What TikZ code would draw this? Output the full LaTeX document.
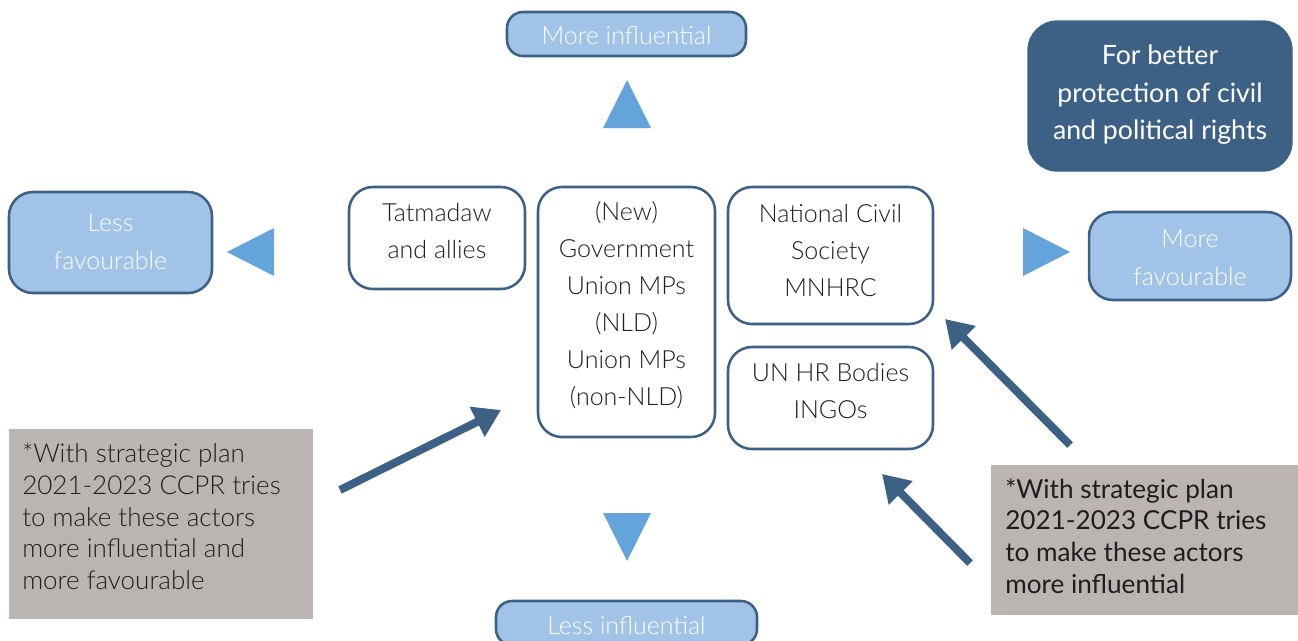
\documentclass[tikz,border=0pt]{standalone}
\usepackage{fontspec}
\setmainfont{Lato}
\newfontfamily\lightf{Lato Light}
\usetikzlibrary{arrows.meta}
\definecolor{dblue}{RGB}{61,97,133}
\definecolor{lblue}{RGB}{161,195,231}
\definecolor{tblue}{RGB}{101,164,218}
\definecolor{gbox}{RGB}{186,181,178}
\definecolor{ink}{RGB}{30,30,30}
\tikzset{
  pbox/.style={draw=dblue, line width=1.9pt, fill=lblue, rounded corners=#1, inner sep=0pt},
  actor/.style={draw=dblue, line width=1.9pt, fill=white, rounded corners=18pt, inner sep=0pt},
  wtxt/.style={text=white, align=center, font=\lightf\fontsize{18.75}{28.2}\selectfont, inner sep=0pt},
  btxt/.style={text=ink, align=center, font=\lightf\fontsize{18.75}{27.75}\selectfont, inner sep=0pt},
  gtxt/.style={text=ink, align=left, font=\fontsize{19.6}{23.8}\selectfont, inner sep=0pt},
  tri/.style={fill=tblue},
  bigarrow/.style={draw=dblue, line width=6pt, -{Triangle[length=20pt,width=24pt]}, shorten >=0pt},
}
\begin{document}
\begin{tikzpicture}[x=0.75pt,y=-0.75pt]
\useasboundingbox (0,0) rectangle (1298,640);
% direction boxes
\node[pbox=12pt, minimum width={239*0.75pt}, minimum height={44*0.75pt}] (moreinf) at (626.5,34) {};
\node[wtxt] at (626.5,36) {More influential};
\node[pbox=18pt, minimum width={203*0.75pt}, minimum height={101*0.75pt}] (lessfav) at (110.5,242.5) {};
\node[wtxt] at (110.5,242) {Less\\favourable};
\node[pbox=18pt, minimum width={202*0.75pt}, minimum height={88*0.75pt}] (morefav) at (1190,256) {};
\node[wtxt] at (1190,258) {More\\favourable};
\node[pbox=12pt, minimum width={261*0.75pt}, minimum height={44*0.75pt}] (lessinf) at (626.5,623) {};
\node[wtxt] at (626.5,625) {Less influential};
% triangles
\fill[tri] (603,128) -- (651,128) -- (627,80) -- cycle;
\fill[tri] (603,513) -- (651,513) -- (627,561) -- cycle;
\fill[tri] (274,228) -- (274,276) -- (227,252) -- cycle;
\fill[tri] (1023,228) -- (1023,276) -- (1070,252) -- cycle;
% goal box
\node[draw=dblue, line width=1pt, fill=dblue, rounded corners=22pt, minimum width={264*0.75pt}, minimum height={150*0.75pt}] (better) at (1160,96) {};
\node[text=white, align=center, font=\fontsize{20}{28.1}\selectfont, inner sep=0pt] at (1160,95) {For better\\protection of civil\\and political rights};
% actor boxes
\node[actor, minimum width={176*0.75pt}, minimum height={102*0.75pt}] (tat) at (437,238) {};
\node[btxt] at (437,231) {Tatmadaw\\and allies};
\node[actor, minimum width={177*0.75pt}, minimum height={250*0.75pt}] (gov) at (626.5,312) {};
\node[btxt] at (626.5,305) {(New)\\Government\\Union MPs\\(NLD)\\Union MPs\\(non-NLD)};
\node[actor, minimum width={205*0.75pt}, minimum height={137*0.75pt}] (ncs) at (830.5,255.5) {};
\node[btxt] at (830.5,250) {National Civil\\Society\\MNHRC};
\node[actor, minimum width={205*0.75pt}, minimum height={102*0.75pt}] (un) at (830.5,398) {};
\node[btxt] at (830.5,391) {UN HR Bodies\\INGOs};
% grey notes
\node[fill=gbox, minimum width={304*0.75pt}, minimum height={190*0.75pt}, inner sep=0pt] (noteL) at (161,524) {};
\node[gtxt, anchor=west, font=\lightf\fontsize{19.5}{23.8}\selectfont] at (22,516.5) {*With strategic plan\\2021-2023 CCPR tries\\to make these actors\\more influential and\\more favourable};
\node[fill=gbox, minimum width={320*0.75pt}, minimum height={150*0.75pt}, inner sep=0pt] (noteR) at (1151,540) {};
\node[gtxt, anchor=west] at (1005,536) {*With strategic plan\\2021-2023 CCPR tries\\to make these actors\\more influential};
% arrows
\coordinate (a1s) at (340,490); \coordinate (a1e) at (501,410);
\coordinate (a2s) at (1070,445); \coordinate (a2e) at (945,319);
\coordinate (a3s) at (970,563); \coordinate (a3e) at (882,474);
\draw[bigarrow] (a1s) -- (a1e);
\draw[bigarrow] (a2s) -- (a2e);
\draw[bigarrow] (a3s) -- (a3e);
\end{tikzpicture}
\end{document}
